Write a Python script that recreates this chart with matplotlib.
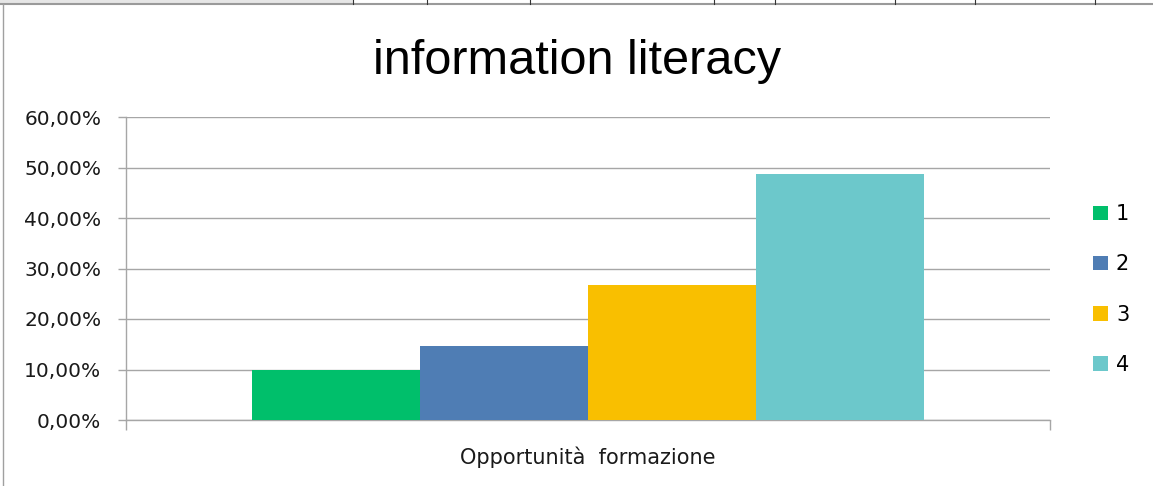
import matplotlib
matplotlib.use("Agg")
import matplotlib.pyplot as plt
from matplotlib.lines import Line2D
from matplotlib.patches import Rectangle

# ----------------------------------------------------------------------------------------------------------------------
categories = ["Opportunità  formazione"]
series_labels = ["1", "2", "3", "4"]
series_values = [9.9, 14.7, 26.7, 48.8]
series_colors = ["#00BF6B", "#4F7DB4", "#F9BF00", "#6CC8CB"]
y_ticks = [0, 10, 20, 30, 40, 50, 60]
# ----------------------------------------------------------------------------------------------------------------------

plt.rcParams["font.family"] = ["DejaVu Sans"]
W, H = 1153, 486
fig = plt.figure(figsize=(W / 100, H / 100), dpi=100)
ax = fig.add_axes([126 / W, 1 - 420 / H, 924 / W, 303 / H])

grid_col = "#A6A6A6"
bar_w = 0.1818
n = len(series_values)
for i, (lab, val, col) in enumerate(zip(series_labels, series_values, series_colors)):
    off = (i - (n - 1) / 2) * bar_w
    ax.bar(0 + off, val, width=bar_w, color=col, label=lab, zorder=3)

ax.set_xlim(-0.5, 0.5)
ax.set_ylim(0, 60)
ax.set_yticks(y_ticks)
ax.set_yticklabels([f"{v:.2f}%".replace(".", ",") for v in y_ticks], fontsize=14.5, color="#1a1a1a")
ax.set_xticks([0])
ax.set_xticklabels(categories, fontsize=15, color="#1a1a1a")
ax.set_xticks([-0.5, 0.5], minor=True)
ax.tick_params(axis="x", which="major", length=0, pad=19)
ax.tick_params(axis="x", which="minor", length=7.2, width=1, color=grid_col)
ax.tick_params(axis="y", length=5.8, width=1, color=grid_col, pad=12)

ax.grid(axis="y", color=grid_col, linewidth=1, zorder=0)
for s in ["top", "right"]:
    ax.spines[s].set_visible(False)
for s in ["left", "bottom"]:
    ax.spines[s].set_color(grid_col)
    ax.spines[s].set_linewidth(1)

fig.text(577 / W, 1 - 74 / H, "information literacy", fontsize=35, family="Liberation Sans",
         ha="center", va="baseline", color="#000000")

ax.legend(loc="center left", bbox_to_anchor=(1093 / W, 1 - 289.5 / H), bbox_transform=fig.transFigure,
          frameon=False, fontsize=15, handlelength=0.7, handleheight=0.7, handletextpad=0.4,
          labelspacing=1.45, borderpad=0, borderaxespad=0)

# spreadsheet border around the chart
fig.add_artist(Rectangle((0, 1 - 3.5 / H), 353 / W, 3.5 / H, transform=fig.transFigure, color="#E6E6E6", lw=0))
fig.add_artist(Line2D([0, 1], [1 - 4.5 / H, 1 - 4.5 / H], transform=fig.transFigure, color="#9A9A9A", lw=1.5))
fig.add_artist(Line2D([2.5 / W, 2.5 / W], [0, 1 - 4.5 / H], transform=fig.transFigure, color="#A0A0A0", lw=1))
for x in [353, 427, 530, 714, 775, 895, 975, 1095]:
    fig.add_artist(Line2D([x / W, x / W], [1 - 4 / H, 1], transform=fig.transFigure, color="#333333", lw=0.8))

fig.savefig("out.png", dpi=100)
